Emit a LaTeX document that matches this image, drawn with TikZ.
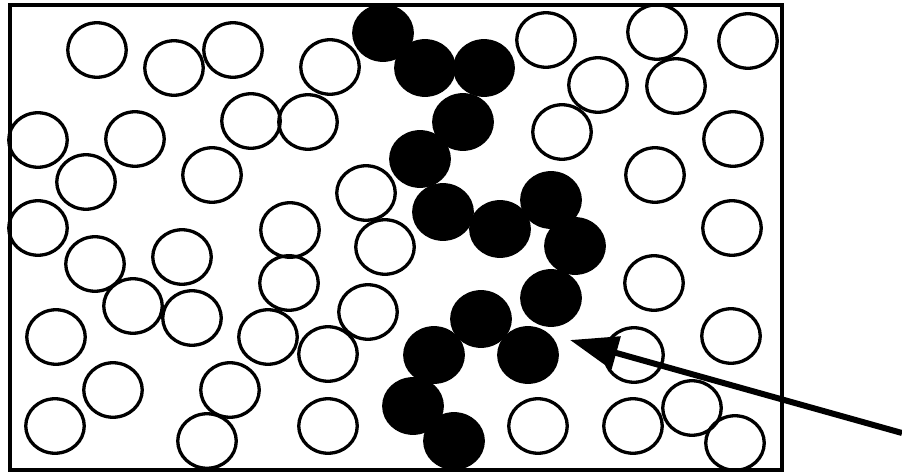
\documentclass[tikz,border=0pt]{standalone}
\usetikzlibrary{shapes.geometric,arrows.meta}
\begin{document}
\begin{tikzpicture}[x=1pt,y=-1pt,
  open/.style={ellipse,draw=black,line width=3.3pt,minimum width=58.5pt,minimum height=54.5pt,inner sep=0pt},
  dark/.style={ellipse,draw=black,fill=black,line width=3.3pt,minimum width=58.5pt,minimum height=54.5pt,inner sep=0pt},
  box/.style={draw=black,line width=3.5pt},
  pointer/.style={line width=6pt,-{Triangle[length=48pt,width=33pt]}}]
\useasboundingbox (0,0) rectangle (902,473);
\draw[box] (10,5) rectangle (782,470);
% open circles
\foreach \x/\y [count=\i] in {97/50,174/68,233/50,330/67,546/40,598/85,657/32,676/86,748/41,
  38/140,135/139,251/121,308/122,562/132,733/139,
  86/182,212/175,366/193,655/175,
  38/228,290/230,732/228,
  95/264,182/257,385/247,
  289/283,654/283,
  133/306,192/318,368/312,
  56/337,268/337,731/336,
  328/354,634/355,
  113/390,230/390,692/408,
  55/426,207/441,328/426,538/426,633/426,735/443}
  \node[open] (o\i) at (\x,\y) {};
% black circles
\foreach \x/\y [count=\i] in {383/33,425/68,484/68,463/122,420/159,443/212,500/229,551/200,
  575/246,551/298,481/319,528/355,434/355,413/406,454/441}
  \node[dark] (b\i) at (\x,\y) {};
\coordinate (tail) at (902,433);
\coordinate (tip) at (570,340);
\draw[pointer] (tail) -- (tip);
\end{tikzpicture}
\end{document}
